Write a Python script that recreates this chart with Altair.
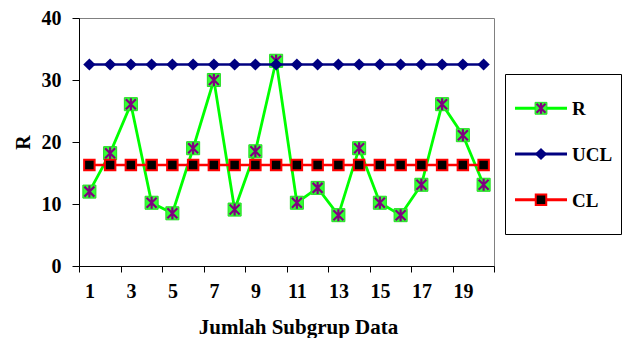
import altair as alt
import pandas as pd

subgroups = list(range(1, 21))
r_values = [12.0, 18.2, 26.1, 10.2, 8.5, 19.0, 30.0, 9.1, 18.5, 33.1,
            10.2, 12.6, 8.2, 19.0, 10.2, 8.2, 13.1, 26.1, 21.1, 13.1]
ucl_values = [32.5] * 20
cl_values = [16.3] * 20
series_names = ["R", "UCL", "CL"]
y_ticks = [0, 10, 20, 30, 40]
x_labels = [1, 3, 5, 7, 9, 11, 13, 15, 17, 19]
x_tick_marks = [0.5, 2.5, 4.5, 6.5, 8.5, 10.5, 12.5, 14.5, 16.5, 18.5, 20.5]

FONT = "Liberation Serif"

df = pd.DataFrame({
    "Subgrup": subgroups * 3,
    "value": r_values + ucl_values + cl_values,
    "series": ["R"] * 20 + ["UCL"] * 20 + ["CL"] * 20,
})

x_axis_values = sorted(set(x_labels) | set(x_tick_marks))

x_enc = alt.X(
    "Subgrup:Q",
    scale=alt.Scale(domain=[0.5, 20.5], nice=False, zero=False),
    axis=alt.Axis(
        values=x_axis_values,
        title="Jumlah Subgrup Data",
        labelExpr="datum.value % 2 == 1 ? datum.label : ''",
        tickOpacity={"condition": {"test": "datum.value % 1 != 0", "value": 1}, "value": 0},
        tickSize=6,
        labelPadding=9,
        labelFlush=False,
        labelOverlap=False,
        grid=False,
        titlePadding=15,
        titleFontSize=21,
        titleX=219,
        titleAnchor="start",
        titleAlign="center",
    ),
)
y_enc = alt.Y(
    "value:Q",
    scale=alt.Scale(domain=[0, 40], nice=False),
    axis=alt.Axis(
        values=y_ticks,
        title="R",
        tickSize=7,
        labelPadding=11,
        grid=False,
        titlePadding=8,
    ),
)

base = alt.Chart(df)

def series_layers(name, line_color, line_width):
    sub = base.transform_filter(alt.datum.series == name)
    return sub.mark_line(color=line_color, strokeWidth=line_width).encode(x=x_enc, y=y_enc)

star_path = "M-1,-1L1,1M1,-1L-1,1M0,-1.2L0,1.2"

r_line = series_layers("R", "#00FF00", 2.8)
r_sq = base.transform_filter(alt.datum.series == "R").mark_point(
    shape="square", filled=True, color="#33FF33", size=170, stroke="#22DD22", strokeWidth=1, opacity=1
).encode(x=x_enc, y=y_enc)
r_star = base.transform_filter(alt.datum.series == "R").mark_point(
    shape=star_path, filled=False, color="#800080", size=100, strokeWidth=2.2, opacity=1
).encode(x=x_enc, y=y_enc)

ucl_line = series_layers("UCL", "#000080", 2.5)
ucl_pt = base.transform_filter(alt.datum.series == "UCL").mark_point(
    shape="diamond", filled=True, color="#000080", size=150, opacity=1
).encode(x=x_enc, y=y_enc)

cl_line = series_layers("CL", "#FF0000", 2.5)
cl_pt = base.transform_filter(alt.datum.series == "CL").mark_point(
    shape="square", filled=True, fill="#000000", stroke="#FF0000", strokeWidth=2, size=110, opacity=1
).encode(x=x_enc, y=y_enc)

main = alt.layer(r_line, r_sq, r_star, ucl_line, ucl_pt, cl_line, cl_pt).properties(
    width=415, height=248
)

# legend panel
leg_df = pd.DataFrame({"series": series_names})
leg_y = alt.Y("series:N", sort=series_names, scale=alt.Scale(domain=series_names, padding=0.5), axis=None)
leg_base = alt.Chart(leg_df)
leg_color = alt.Color("series:N", scale=alt.Scale(domain=series_names, range=["#00FF00", "#000080", "#FF0000"]), legend=None)

leg_line = leg_base.mark_rule(strokeWidth=3).encode(
    y=leg_y, x=alt.value(10), x2=alt.value(62), color=leg_color
)
leg_r_sq = leg_base.transform_filter(alt.datum.series == "R").mark_point(
    shape="square", filled=True, color="#33FF33", size=140, stroke="#22DD22", strokeWidth=1, opacity=1
).encode(y=leg_y, x=alt.value(36))
leg_r_star = leg_base.transform_filter(alt.datum.series == "R").mark_point(
    shape=star_path, filled=False, color="#800080", size=80, strokeWidth=2.2, opacity=1
).encode(y=leg_y, x=alt.value(36))
leg_ucl = leg_base.transform_filter(alt.datum.series == "UCL").mark_point(
    shape="diamond", filled=True, color="#000080", size=150, opacity=1
).encode(y=leg_y, x=alt.value(36))
leg_cl = leg_base.transform_filter(alt.datum.series == "CL").mark_point(
    shape="square", filled=True, fill="#000000", stroke="#FF0000", strokeWidth=2, size=110, opacity=1
).encode(y=leg_y, x=alt.value(36))
leg_text = leg_base.mark_text(
    align="left", baseline="middle", font=FONT, fontSize=19, fontWeight="bold", color="black", dy=1
).encode(y=leg_y, x=alt.value(67), text="series:N")

legend = alt.layer(leg_line, leg_r_sq, leg_r_star, leg_ucl, leg_cl, leg_text).properties(
    width=116, height=160, view=alt.ViewBackground(stroke="black", strokeWidth=1)
)

spacer = alt.Chart(pd.DataFrame({"v": [0]})).mark_point(opacity=0).properties(
    width=116, height=55, view=alt.ViewBackground(strokeOpacity=0)
)

chart = alt.hconcat(
    main,
    alt.vconcat(spacer, legend, spacing=0),
    spacing=9,
).properties(
    padding={"left": 12, "top": 7, "right": 0, "bottom": 0},
    background="white",
).configure_view(
    stroke="#808080", strokeWidth=1
).configure_axis(
    labelFont=FONT, labelFontSize=20, labelFontWeight="bold", labelColor="black",
    titleFont=FONT, titleFontSize=20, titleFontWeight="bold", titleColor="black",
    domainColor="black", tickColor="black", domainWidth=1, tickWidth=1,
)

chart.save("out.html", embed_options={"renderer": "svg", "actions": False})
